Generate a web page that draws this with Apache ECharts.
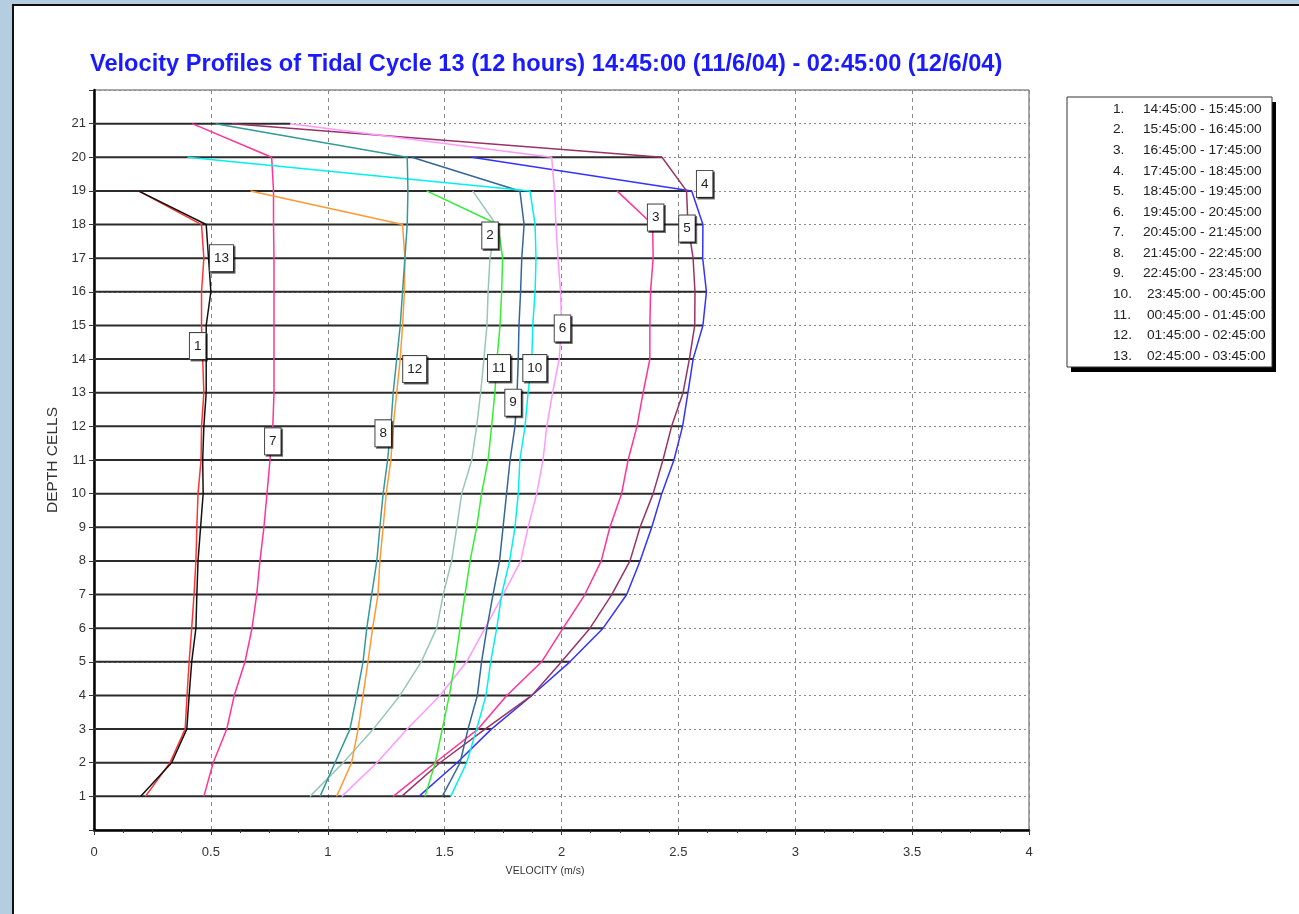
<!DOCTYPE html>
<html><head><meta charset="utf-8">
<script src="https://cdn.jsdelivr.net/npm/echarts@6/dist/echarts.min.js"></script>
<style>
html,body{margin:0;padding:0;width:1299px;height:914px;overflow:hidden;background:#b4cde0;}
#panel{position:absolute;left:12px;top:4px;width:1287px;height:910px;background:#fff;border-top:2px solid #111;border-left:2px solid #111;box-sizing:border-box;}
#chart{position:absolute;left:0;top:0;width:1299px;height:914px;}
</style></head><body><div id="panel"></div><div id="chart"></div>
<script>
const titleText = 'Velocity Profiles of Tidal Cycle 13 (12 hours) 14:45:00 (11/6/04) - 02:45:00 (12/6/04)';
const depths = [1,2,3,4,5,6,7,8,9,10,11,12,13,14,15,16,17,18,19,20,21];
const periods = ['14:45:00 - 15:45:00','15:45:00 - 16:45:00','16:45:00 - 17:45:00','17:45:00 - 18:45:00','18:45:00 - 19:45:00','19:45:00 - 20:45:00','20:45:00 - 21:45:00','21:45:00 - 22:45:00','22:45:00 - 23:45:00','23:45:00 - 00:45:00','00:45:00 - 01:45:00','01:45:00 - 02:45:00','02:45:00 - 03:45:00'];
const v1  = [0.22,0.325,0.39,0.398,0.407,0.418,0.428,0.436,0.44,0.445,0.458,0.46,0.47,0.465,0.46,0.46,0.47,0.46,0.19,null,null];
const v2  = [0.924,1.066,1.195,1.309,1.40,1.466,1.494,1.53,1.552,1.573,1.616,1.637,1.654,1.668,1.681,1.686,1.694,1.72,1.62,null,null];
const v3  = [1.28,1.459,1.643,1.766,1.915,2.007,2.1,2.17,2.207,2.257,2.285,2.323,2.349,2.378,2.378,2.381,2.392,2.39,2.237,null,null];
const v4  = [1.39,1.553,1.70,1.873,2.036,2.178,2.279,2.336,2.386,2.429,2.481,2.518,2.541,2.563,2.605,2.62,2.604,2.605,2.557,1.616,null];
const v5  = [1.316,1.48,1.673,1.873,2.0,2.122,2.215,2.293,2.336,2.392,2.434,2.471,2.52,2.547,2.57,2.571,2.563,2.541,2.535,2.43,0.59];
const v6  = [1.06,1.21,1.34,1.48,1.594,1.673,1.75,1.826,1.857,1.894,1.921,1.937,1.962,1.99,2.0,1.996,1.985,1.976,1.97,1.958,0.84];
const v7  = [0.47,0.51,0.568,0.60,0.646,0.676,0.696,0.71,0.727,0.74,0.753,0.765,0.77,0.77,0.77,0.77,0.77,0.768,0.768,0.76,0.42];
const v8  = [1.038,1.102,1.13,1.151,1.172,1.192,1.215,1.223,1.237,1.25,1.27,1.28,1.295,1.31,1.32,1.328,1.33,1.32,0.67,null,null];
const v9  = [1.49,1.566,1.60,1.64,1.658,1.681,1.707,1.735,1.75,1.765,1.78,1.801,1.81,1.815,1.818,1.825,1.83,1.84,1.822,1.36,null];
const v10 = [1.526,1.594,1.637,1.677,1.697,1.723,1.744,1.778,1.801,1.815,1.822,1.844,1.857,1.873,1.877,1.887,1.891,1.887,1.865,0.40,null];
const v11 = [1.416,1.46,1.49,1.52,1.545,1.566,1.587,1.609,1.637,1.658,1.686,1.701,1.715,1.724,1.737,1.744,1.748,1.728,1.423,null,null];
const v12 = [0.967,1.031,1.095,1.124,1.151,1.167,1.188,1.21,1.223,1.237,1.256,1.27,1.28,1.295,1.31,1.32,1.33,1.34,1.343,1.34,0.52];
const v13 = [0.20,0.332,0.397,0.407,0.418,0.436,0.44,0.445,0.456,0.467,0.465,0.47,0.48,0.48,0.48,0.50,0.49,0.48,0.19,null,null];
const xTicks = [0,0.5,1,1.5,2,2.5,3,3.5,4];

const profiles = [v1,v2,v3,v4,v5,v6,v7,v8,v9,v10,v11,v12,v13];
const colors = ['#ff3333','#96c8b4','#ff3399','#3333ff','#993366','#ff99ff','#ff3399','#ff9933','#336699','#00f0f0','#33ee33','#339999','#111111'];
const labelDepth = [14,18,18,19,18,15,12,12,13,14,14,14,17];
const labelOffset = [[-5,-13],[-6,11],[3,-7],[13,-7],[-1,4],[1,3],[0,15],[-10,7],[-4,10],[3,9],[2,9],[18,10],[13,0]];

const maxByDepth = depths.map((d,i)=>Math.max(...profiles.map(p=>p[i]).filter(v=>v!=null)));
const FONT = 'Liberation Sans, Arial, sans-serif';

const series = [{
  type:'custom', silent:true, z:1,
  data: depths.map((d,i)=>[maxByDepth[i], d]),
  renderItem:(params, api)=>{
    const a = api.coord([0, api.value(1)]);
    const b = api.coord([api.value(0), api.value(1)]);
    return {type:'line', shape:{x1:a[0],y1:a[1],x2:b[0],y2:b[1]}, style:{stroke:'#2b2b2b', lineWidth:2}};
  }
}];
profiles.forEach((vals, i)=>{
  const k = labelDepth[i]-1;
  series.push({
    type:'line', name:periods[i], z:2,
    data: depths.map((d,j)=>[vals[j], d]).filter(p=>p[0]!=null),
    showSymbol:false, symbol:'none',
    lineStyle:{color:colors[i], width:1.5}, itemStyle:{color:colors[i]},
    markPoint:{
      symbol:'rect', symbolSize:0, silent:true,
      data:[{coord:[vals[k], depths[k]], value:i+1}],
      label:{show:true, position:'inside', formatter:String(i+1), offset:labelOffset[i],
        backgroundColor:'#fff', borderColor:'#444', borderWidth:1, padding:[6,4,6,4],
        fontFamily:FONT, fontSize:13.5, lineHeight:14, color:'#222',
        shadowColor:'rgba(0,0,0,0.55)', shadowOffsetX:1.5, shadowOffsetY:1.5, shadowBlur:0}
    }
  });
});

const graphic = [
  {type:'rect', x:1071, y:102, shape:{width:205,height:270}, style:{fill:'#000'}, silent:true},
  {type:'rect', x:1067, y:97, shape:{width:205,height:270}, style:{fill:'#fff', stroke:'#333', lineWidth:1}, silent:true}
];
periods.forEach((p,i)=>{
  const y = 109 + i*20.58;
  graphic.push({type:'text', x:1113, y:y, silent:true, style:{text:(i+1)+'.', fill:'#222', font:'13.7px '+FONT, verticalAlign:'middle', align:'left'}});
  graphic.push({type:'text', x:1143+(i>=9?4:0), y:y, silent:true, style:{text:p, fill:'#222', font:'13.7px '+FONT, verticalAlign:'middle', align:'left'}});
});

const chart = echarts.init(document.getElementById('chart'), null, {renderer:'canvas', width:1299, height:914});
chart.setOption({
  animation:false,
  backgroundColor:'transparent',
  title:{text:titleText, left:85, top:47, textStyle:{fontFamily:FONT, fontWeight:'bold', fontSize:23.6, color:'#1a1aff'}},
  grid:{left:94, top:90, width:935, height:740, show:true, borderColor:'#555', borderWidth:1, backgroundColor:'transparent'},
  xAxis:{type:'value', min:xTicks[0], max:xTicks[xTicks.length-1], interval:0.5,
    name:'VELOCITY (m/s)', nameLocation:'middle', nameGap:36,
    nameTextStyle:{fontFamily:FONT, fontSize:10.5, color:'#333', padding:[0,33,0,0]},
    axisLine:{lineStyle:{color:'#000', width:2.5}},
    axisTick:{show:true, length:5, lineStyle:{color:'#333'}},
    minorTick:{show:true, splitNumber:4, length:3, lineStyle:{color:'#333'}},
    axisLabel:{fontFamily:FONT, fontSize:13, color:'#333', margin:16, formatter:v=>String(v)},
    splitLine:{show:true, lineStyle:{color:'#8a8a8a', type:[4,4], width:1}}
  },
  yAxis:{type:'value', min:0, max:22, interval:1,
    name:'DEPTH CELLS', nameLocation:'middle', nameGap:16, nameRotate:90,
    nameTextStyle:{fontFamily:FONT, fontSize:15.5, color:'#333'},
    axisLine:{lineStyle:{color:'#000', width:2.5}},
    axisTick:{show:true, length:5, lineStyle:{color:'#333'}},
    axisLabel:{fontFamily:FONT, fontSize:13, color:'#333', margin:8, formatter:v=>(v>=depths[0]&&v<=depths[depths.length-1])?String(v):''},
    splitLine:{show:true, lineStyle:{color:'#8a8a8a', type:[2,3], width:1}}
  },
  series:series,
  graphic:graphic
});
</script></body></html>
